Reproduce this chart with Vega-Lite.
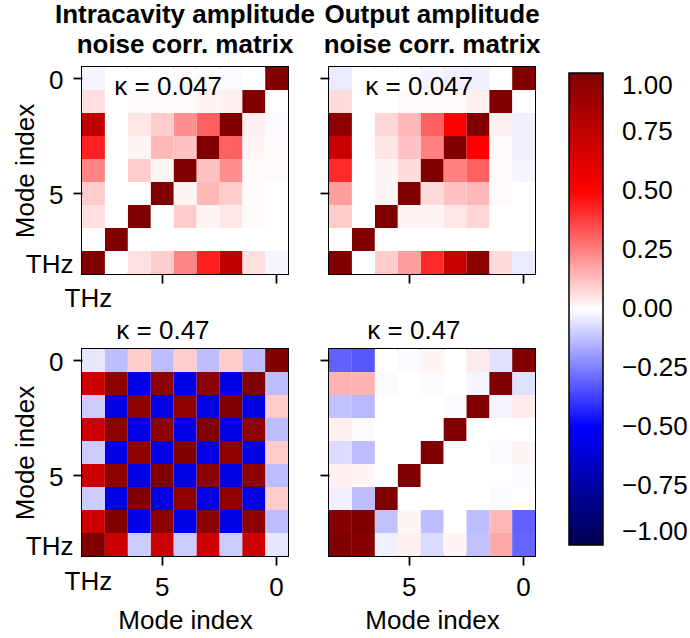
{
"$schema": "https://vega.github.io/schema/vega-lite/v6.json",
"padding": {"left": 11, "top": 0, "right": 0, "bottom": 0},
"data": {"values": [
{"m":"a","r":0,"c":0,"v":1},{"m":"a","r":0,"c":1,"v":0},{"m":"a","r":0,"c":2,"v":-0.01},{"m":"a","r":0,"c":3,"v":0.01},{"m":"a","r":0,"c":4,"v":0.01},{"m":"a","r":0,"c":5,"v":0},{"m":"a","r":0,"c":6,"v":0},{"m":"a","r":0,"c":7,"v":0},{"m":"a","r":0,"c":8,"v":-0.02},
{"m":"a","r":1,"c":0,"v":0},{"m":"a","r":1,"c":1,"v":1},{"m":"a","r":1,"c":2,"v":0.03},{"m":"a","r":1,"c":3,"v":0.02},{"m":"a","r":1,"c":4,"v":0.01},{"m":"a","r":1,"c":5,"v":0.01},{"m":"a","r":1,"c":6,"v":0.01},{"m":"a","r":1,"c":7,"v":0},{"m":"a","r":1,"c":8,"v":0.06},
{"m":"a","r":2,"c":0,"v":-0.01},{"m":"a","r":2,"c":1,"v":0.03},{"m":"a","r":2,"c":2,"v":1},{"m":"a","r":2,"c":3,"v":0.31},{"m":"a","r":2,"c":4,"v":0.22},{"m":"a","r":2,"c":5,"v":0.1},{"m":"a","r":2,"c":6,"v":0.05},{"m":"a","r":2,"c":7,"v":0},{"m":"a","r":2,"c":8,"v":0.75},
{"m":"a","r":3,"c":0,"v":0.01},{"m":"a","r":3,"c":1,"v":0.02},{"m":"a","r":3,"c":2,"v":0.31},{"m":"a","r":3,"c":3,"v":1},{"m":"a","r":3,"c":4,"v":0.12},{"m":"a","r":3,"c":5,"v":0.14},{"m":"a","r":3,"c":6,"v":0.02},{"m":"a","r":3,"c":7,"v":0},{"m":"a","r":3,"c":8,"v":0.44},
{"m":"a","r":4,"c":0,"v":0.01},{"m":"a","r":4,"c":1,"v":0.01},{"m":"a","r":4,"c":2,"v":0.22},{"m":"a","r":4,"c":3,"v":0.12},{"m":"a","r":4,"c":4,"v":1},{"m":"a","r":4,"c":5,"v":0.02},{"m":"a","r":4,"c":6,"v":0.1},{"m":"a","r":4,"c":7,"v":0},{"m":"a","r":4,"c":8,"v":0.24},
{"m":"a","r":5,"c":0,"v":0},{"m":"a","r":5,"c":1,"v":0.01},{"m":"a","r":5,"c":2,"v":0.1},{"m":"a","r":5,"c":3,"v":0.14},{"m":"a","r":5,"c":4,"v":0.02},{"m":"a","r":5,"c":5,"v":1},{"m":"a","r":5,"c":6,"v":0},{"m":"a","r":5,"c":7,"v":0},{"m":"a","r":5,"c":8,"v":0.1},
{"m":"a","r":6,"c":0,"v":0},{"m":"a","r":6,"c":1,"v":0.01},{"m":"a","r":6,"c":2,"v":0.05},{"m":"a","r":6,"c":3,"v":0.02},{"m":"a","r":6,"c":4,"v":0.1},{"m":"a","r":6,"c":5,"v":0},{"m":"a","r":6,"c":6,"v":1},{"m":"a","r":6,"c":7,"v":0},{"m":"a","r":6,"c":8,"v":0.06},
{"m":"a","r":7,"c":0,"v":0},{"m":"a","r":7,"c":1,"v":0},{"m":"a","r":7,"c":2,"v":0},{"m":"a","r":7,"c":3,"v":0},{"m":"a","r":7,"c":4,"v":0},{"m":"a","r":7,"c":5,"v":0},{"m":"a","r":7,"c":6,"v":0},{"m":"a","r":7,"c":7,"v":1},{"m":"a","r":7,"c":8,"v":0},
{"m":"a","r":8,"c":0,"v":-0.02},{"m":"a","r":8,"c":1,"v":0.06},{"m":"a","r":8,"c":2,"v":0.75},{"m":"a","r":8,"c":3,"v":0.44},{"m":"a","r":8,"c":4,"v":0.24},{"m":"a","r":8,"c":5,"v":0.1},{"m":"a","r":8,"c":6,"v":0.06},{"m":"a","r":8,"c":7,"v":0},{"m":"a","r":8,"c":8,"v":1},
{"m":"b","r":0,"c":0,"v":1},{"m":"b","r":0,"c":1,"v":0},{"m":"b","r":0,"c":2,"v":-0.03},{"m":"b","r":0,"c":3,"v":-0.03},{"m":"b","r":0,"c":4,"v":-0.02},{"m":"b","r":0,"c":5,"v":0},{"m":"b","r":0,"c":6,"v":0},{"m":"b","r":0,"c":7,"v":0},{"m":"b","r":0,"c":8,"v":-0.04},
{"m":"b","r":1,"c":0,"v":0},{"m":"b","r":1,"c":1,"v":1},{"m":"b","r":1,"c":2,"v":0.03},{"m":"b","r":1,"c":3,"v":0.01},{"m":"b","r":1,"c":4,"v":0.01},{"m":"b","r":1,"c":5,"v":0.01},{"m":"b","r":1,"c":6,"v":0},{"m":"b","r":1,"c":7,"v":0},{"m":"b","r":1,"c":8,"v":0.07},
{"m":"b","r":2,"c":0,"v":-0.03},{"m":"b","r":2,"c":1,"v":0.03},{"m":"b","r":2,"c":2,"v":1},{"m":"b","r":2,"c":3,"v":0.5},{"m":"b","r":2,"c":4,"v":0.31},{"m":"b","r":2,"c":5,"v":0.14},{"m":"b","r":2,"c":6,"v":0.08},{"m":"b","r":2,"c":7,"v":0},{"m":"b","r":2,"c":8,"v":0.95},
{"m":"b","r":3,"c":0,"v":-0.03},{"m":"b","r":3,"c":1,"v":0.01},{"m":"b","r":3,"c":2,"v":0.5},{"m":"b","r":3,"c":3,"v":1},{"m":"b","r":3,"c":4,"v":0.25},{"m":"b","r":3,"c":5,"v":0.12},{"m":"b","r":3,"c":6,"v":0.05},{"m":"b","r":3,"c":7,"v":0},{"m":"b","r":3,"c":8,"v":0.72},
{"m":"b","r":4,"c":0,"v":-0.02},{"m":"b","r":4,"c":1,"v":0.01},{"m":"b","r":4,"c":2,"v":0.31},{"m":"b","r":4,"c":3,"v":0.25},{"m":"b","r":4,"c":4,"v":1},{"m":"b","r":4,"c":5,"v":0.07},{"m":"b","r":4,"c":6,"v":0.02},{"m":"b","r":4,"c":7,"v":0},{"m":"b","r":4,"c":8,"v":0.42},
{"m":"b","r":5,"c":0,"v":0},{"m":"b","r":5,"c":1,"v":0.01},{"m":"b","r":5,"c":2,"v":0.14},{"m":"b","r":5,"c":3,"v":0.12},{"m":"b","r":5,"c":4,"v":0.07},{"m":"b","r":5,"c":5,"v":1},{"m":"b","r":5,"c":6,"v":0.02},{"m":"b","r":5,"c":7,"v":0},{"m":"b","r":5,"c":8,"v":0.19},
{"m":"b","r":6,"c":0,"v":0},{"m":"b","r":6,"c":1,"v":0},{"m":"b","r":6,"c":2,"v":0.08},{"m":"b","r":6,"c":3,"v":0.05},{"m":"b","r":6,"c":4,"v":0.02},{"m":"b","r":6,"c":5,"v":0.02},{"m":"b","r":6,"c":6,"v":1},{"m":"b","r":6,"c":7,"v":0},{"m":"b","r":6,"c":8,"v":0.1},
{"m":"b","r":7,"c":0,"v":0},{"m":"b","r":7,"c":1,"v":0},{"m":"b","r":7,"c":2,"v":0},{"m":"b","r":7,"c":3,"v":0},{"m":"b","r":7,"c":4,"v":0},{"m":"b","r":7,"c":5,"v":0},{"m":"b","r":7,"c":6,"v":0},{"m":"b","r":7,"c":7,"v":1},{"m":"b","r":7,"c":8,"v":0},
{"m":"b","r":8,"c":0,"v":-0.04},{"m":"b","r":8,"c":1,"v":0.07},{"m":"b","r":8,"c":2,"v":0.95},{"m":"b","r":8,"c":3,"v":0.72},{"m":"b","r":8,"c":4,"v":0.42},{"m":"b","r":8,"c":5,"v":0.19},{"m":"b","r":8,"c":6,"v":0.1},{"m":"b","r":8,"c":7,"v":0},{"m":"b","r":8,"c":8,"v":1},
{"m":"c","r":0,"c":0,"v":1},{"m":"c","r":0,"c":1,"v":-0.13},{"m":"c","r":0,"c":2,"v":0.1},{"m":"c","r":0,"c":3,"v":-0.13},{"m":"c","r":0,"c":4,"v":0.1},{"m":"c","r":0,"c":5,"v":-0.13},{"m":"c","r":0,"c":6,"v":0.1},{"m":"c","r":0,"c":7,"v":-0.13},{"m":"c","r":0,"c":8,"v":-0.05},
{"m":"c","r":1,"c":0,"v":-0.13},{"m":"c","r":1,"c":1,"v":1},{"m":"c","r":1,"c":2,"v":-0.58},{"m":"c","r":1,"c":3,"v":0.95},{"m":"c","r":1,"c":4,"v":-0.58},{"m":"c","r":1,"c":5,"v":0.95},{"m":"c","r":1,"c":6,"v":-0.58},{"m":"c","r":1,"c":7,"v":0.95},{"m":"c","r":1,"c":8,"v":0.7},
{"m":"c","r":2,"c":0,"v":0.1},{"m":"c","r":2,"c":1,"v":-0.58},{"m":"c","r":2,"c":2,"v":1},{"m":"c","r":2,"c":3,"v":-0.58},{"m":"c","r":2,"c":4,"v":0.95},{"m":"c","r":2,"c":5,"v":-0.58},{"m":"c","r":2,"c":6,"v":0.95},{"m":"c","r":2,"c":7,"v":-0.58},{"m":"c","r":2,"c":8,"v":-0.1},
{"m":"c","r":3,"c":0,"v":-0.13},{"m":"c","r":3,"c":1,"v":0.95},{"m":"c","r":3,"c":2,"v":-0.58},{"m":"c","r":3,"c":3,"v":1},{"m":"c","r":3,"c":4,"v":-0.58},{"m":"c","r":3,"c":5,"v":0.95},{"m":"c","r":3,"c":6,"v":-0.58},{"m":"c","r":3,"c":7,"v":0.95},{"m":"c","r":3,"c":8,"v":0.7},
{"m":"c","r":4,"c":0,"v":0.1},{"m":"c","r":4,"c":1,"v":-0.58},{"m":"c","r":4,"c":2,"v":0.95},{"m":"c","r":4,"c":3,"v":-0.58},{"m":"c","r":4,"c":4,"v":1},{"m":"c","r":4,"c":5,"v":-0.58},{"m":"c","r":4,"c":6,"v":0.95},{"m":"c","r":4,"c":7,"v":-0.58},{"m":"c","r":4,"c":8,"v":-0.1},
{"m":"c","r":5,"c":0,"v":-0.13},{"m":"c","r":5,"c":1,"v":0.95},{"m":"c","r":5,"c":2,"v":-0.58},{"m":"c","r":5,"c":3,"v":0.95},{"m":"c","r":5,"c":4,"v":-0.58},{"m":"c","r":5,"c":5,"v":1},{"m":"c","r":5,"c":6,"v":-0.58},{"m":"c","r":5,"c":7,"v":0.95},{"m":"c","r":5,"c":8,"v":0.7},
{"m":"c","r":6,"c":0,"v":0.1},{"m":"c","r":6,"c":1,"v":-0.58},{"m":"c","r":6,"c":2,"v":0.95},{"m":"c","r":6,"c":3,"v":-0.58},{"m":"c","r":6,"c":4,"v":0.95},{"m":"c","r":6,"c":5,"v":-0.58},{"m":"c","r":6,"c":6,"v":1},{"m":"c","r":6,"c":7,"v":-0.58},{"m":"c","r":6,"c":8,"v":-0.1},
{"m":"c","r":7,"c":0,"v":-0.13},{"m":"c","r":7,"c":1,"v":0.95},{"m":"c","r":7,"c":2,"v":-0.58},{"m":"c","r":7,"c":3,"v":0.95},{"m":"c","r":7,"c":4,"v":-0.58},{"m":"c","r":7,"c":5,"v":0.95},{"m":"c","r":7,"c":6,"v":-0.58},{"m":"c","r":7,"c":7,"v":1},{"m":"c","r":7,"c":8,"v":0.7},
{"m":"c","r":8,"c":0,"v":-0.05},{"m":"c","r":8,"c":1,"v":0.7},{"m":"c","r":8,"c":2,"v":-0.1},{"m":"c","r":8,"c":3,"v":0.7},{"m":"c","r":8,"c":4,"v":-0.1},{"m":"c","r":8,"c":5,"v":0.7},{"m":"c","r":8,"c":6,"v":-0.1},{"m":"c","r":8,"c":7,"v":0.7},{"m":"c","r":8,"c":8,"v":1},
{"m":"d","r":0,"c":0,"v":1},{"m":"d","r":0,"c":1,"v":-0.06},{"m":"d","r":0,"c":2,"v":0.04},{"m":"d","r":0,"c":3,"v":0},{"m":"d","r":0,"c":4,"v":0.02},{"m":"d","r":0,"c":5,"v":-0.01},{"m":"d","r":0,"c":6,"v":0},{"m":"d","r":0,"c":7,"v":-0.33},{"m":"d","r":0,"c":8,"v":-0.31},
{"m":"d","r":1,"c":0,"v":-0.06},{"m":"d","r":1,"c":1,"v":1},{"m":"d","r":1,"c":2,"v":-0.02},{"m":"d","r":1,"c":3,"v":0},{"m":"d","r":1,"c":4,"v":-0.01},{"m":"d","r":1,"c":5,"v":0},{"m":"d","r":1,"c":6,"v":-0.01},{"m":"d","r":1,"c":7,"v":0.15},{"m":"d","r":1,"c":8,"v":0.15},
{"m":"d","r":2,"c":0,"v":0.04},{"m":"d","r":2,"c":1,"v":-0.02},{"m":"d","r":2,"c":2,"v":1},{"m":"d","r":2,"c":3,"v":-0.01},{"m":"d","r":2,"c":4,"v":0},{"m":"d","r":2,"c":5,"v":0},{"m":"d","r":2,"c":6,"v":0},{"m":"d","r":2,"c":7,"v":-0.14},{"m":"d","r":2,"c":8,"v":-0.12},
{"m":"d","r":3,"c":0,"v":0},{"m":"d","r":3,"c":1,"v":0},{"m":"d","r":3,"c":2,"v":0},{"m":"d","r":3,"c":3,"v":1},{"m":"d","r":3,"c":4,"v":0},{"m":"d","r":3,"c":5,"v":0},{"m":"d","r":3,"c":6,"v":0},{"m":"d","r":3,"c":7,"v":0.01},{"m":"d","r":3,"c":8,"v":0.03},
{"m":"d","r":4,"c":0,"v":0.02},{"m":"d","r":4,"c":1,"v":-0.01},{"m":"d","r":4,"c":2,"v":0},{"m":"d","r":4,"c":3,"v":0},{"m":"d","r":4,"c":4,"v":1},{"m":"d","r":4,"c":5,"v":0},{"m":"d","r":4,"c":6,"v":0},{"m":"d","r":4,"c":7,"v":-0.13},{"m":"d","r":4,"c":8,"v":-0.07},
{"m":"d","r":5,"c":0,"v":-0.01},{"m":"d","r":5,"c":1,"v":0},{"m":"d","r":5,"c":2,"v":0},{"m":"d","r":5,"c":3,"v":0},{"m":"d","r":5,"c":4,"v":0},{"m":"d","r":5,"c":5,"v":1},{"m":"d","r":5,"c":6,"v":0},{"m":"d","r":5,"c":7,"v":0.02},{"m":"d","r":5,"c":8,"v":0.03},
{"m":"d","r":6,"c":0,"v":0},{"m":"d","r":6,"c":1,"v":-0.01},{"m":"d","r":6,"c":2,"v":0},{"m":"d","r":6,"c":3,"v":0},{"m":"d","r":6,"c":4,"v":0},{"m":"d","r":6,"c":5,"v":0},{"m":"d","r":6,"c":6,"v":1},{"m":"d","r":6,"c":7,"v":-0.13},{"m":"d","r":6,"c":8,"v":-0.03},
{"m":"d","r":7,"c":0,"v":-0.31},{"m":"d","r":7,"c":1,"v":0.14},{"m":"d","r":7,"c":2,"v":-0.13},{"m":"d","r":7,"c":3,"v":0},{"m":"d","r":7,"c":4,"v":-0.13},{"m":"d","r":7,"c":5,"v":0.02},{"m":"d","r":7,"c":6,"v":-0.12},{"m":"d","r":7,"c":7,"v":1},{"m":"d","r":7,"c":8,"v":0.98},
{"m":"d","r":8,"c":0,"v":-0.3},{"m":"d","r":8,"c":1,"v":0.17},{"m":"d","r":8,"c":2,"v":-0.12},{"m":"d","r":8,"c":3,"v":0.02},{"m":"d","r":8,"c":4,"v":-0.07},{"m":"d","r":8,"c":5,"v":0.03},{"m":"d","r":8,"c":6,"v":-0.03},{"m":"d","r":8,"c":7,"v":0.98},{"m":"d","r":8,"c":8,"v":1}
]},
"columns": 2,
"spacing": {"row": 75, "column": 41},
"bounds": "flush",
"concat": [
{
 "width": 206, "height": 207,
 "title": {"text": ["Intracavity amplitude", "noise corr. matrix"], "fontWeight": "bold", "fontSize": 26, "lineHeight": 30, "baseline": "bottom", "offset": -16.5, "anchor": "middle"},
 "encoding": {
  "x": {"field": "c", "type": "ordinal", "scale": {"domain": [8,7,6,5,4,3,2,1,0], "paddingInner": 0, "paddingOuter": 0},
        "axis": {"values": [8,5,0], "title": null, "labelAngle": 0, "labelExpr": "datum.value == 8 ? 'THz' : ''",
                 "labelPadding": {"condition": {"test": "datum.value == 8", "value": 2}, "value": 9},
                 "labelOffset": {"condition": {"test": "datum.value == 8", "value": -5}, "value": 0},
                 "tickOpacity": {"condition": {"test": "datum.value == 8", "value": 0}, "value": 1}}},
  "y": {"field": "r", "type": "ordinal", "scale": {"domain": [0,1,2,3,4,5,6,7,8], "paddingInner": 0, "paddingOuter": 0},
        "axis": {"values": [0,5,8], "title": "Mode index", "titleX": -44, "titleY": 103.5, "titleBaseline": "bottom", "labelExpr": "datum.value == 8 ? 'THz' : datum.label",
                 "labelPadding": {"condition": {"test": "datum.value == 8", "value": 0}, "value": 10},
                 "labelOffset": 2,
                 "tickOpacity": {"condition": {"test": "datum.value == 8", "value": 0}, "value": 1}}}
 },
 "layer": [
  {"transform": [{"filter": "datum.m == 'a'"}], "mark": "rect",
   "encoding": {"color": {"field": "v", "type": "quantitative", "scale": {"domain": [-1,-0.5,0,0.5,1], "range": ["#00004c","#0000ff","#ffffff","#ff0000","#800000"], "interpolate": "rgb"},
     "legend": {"orient": "none", "legendX": 487, "legendY": 6, "direction": "vertical", "gradientLength": 472, "gradientThickness": 34, "title": null, "values": [1,0.75,0.5,0.25,0,-0.25,-0.5,-0.75,-1], "format": ".2f", "labelFontSize": 26, "labelOffset": 19, "labelBaseline": "middle", "labelOverlap": false, "gradientStrokeColor": "black", "gradientStrokeWidth": 1.5, "labelColor": "black"}}}},
  {"data": {"values": [{"c": 7, "r": 0, "t": "κ = 0.047"}]}, "mark": {"type": "text", "align": "left", "baseline": "alphabetic", "dx": -2, "dy": 16, "fontSize": 26, "color": "black"},
   "encoding": {"text": {"field": "t"}}}
 ]
},
{
 "width": 206, "height": 207,
 "title": {"text": ["Output amplitude", "noise corr. matrix"], "fontWeight": "bold", "fontSize": 26, "lineHeight": 30, "baseline": "bottom", "offset": -16.5, "anchor": "middle"},
 "encoding": {
  "x": {"field": "c", "type": "ordinal", "scale": {"domain": [8,7,6,5,4,3,2,1,0], "paddingInner": 0, "paddingOuter": 0},
        "axis": {"values": [5,0], "title": null, "labels": false}},
  "y": {"field": "r", "type": "ordinal", "scale": {"domain": [0,1,2,3,4,5,6,7,8], "paddingInner": 0, "paddingOuter": 0},
        "axis": {"values": [0,5], "title": null, "labels": false}}
 },
 "layer": [
  {"transform": [{"filter": "datum.m == 'b'"}], "mark": "rect",
   "encoding": {"color": {"field": "v", "type": "quantitative", "scale": {"domain": [-1,-0.5,0,0.5,1], "range": ["#00004c","#0000ff","#ffffff","#ff0000","#800000"], "interpolate": "rgb"},
     "legend": {"orient": "none", "legendX": 487, "legendY": 6, "direction": "vertical", "gradientLength": 472, "gradientThickness": 34, "title": null, "values": [1,0.75,0.5,0.25,0,-0.25,-0.5,-0.75,-1], "format": ".2f", "labelFontSize": 26, "labelOffset": 19, "labelBaseline": "middle", "labelOverlap": false, "gradientStrokeColor": "black", "gradientStrokeWidth": 1.5, "labelColor": "black"}}}},
  {"data": {"values": [{"c": 7, "r": 0, "t": "κ = 0.047"}]}, "mark": {"type": "text", "align": "left", "baseline": "alphabetic", "dx": 2, "dy": 16, "fontSize": 26, "color": "black"},
   "encoding": {"text": {"field": "t"}}}
 ]
},
{
 "width": 206, "height": 207,
 "encoding": {
  "x": {"field": "c", "type": "ordinal", "scale": {"domain": [8,7,6,5,4,3,2,1,0], "paddingInner": 0, "paddingOuter": 0},
        "axis": {"values": [8,5,0], "title": "Mode index", "titleY": 51.5, "labelAngle": 0, "labelExpr": "datum.value == 8 ? 'THz' : datum.label",
                 "labelPadding": {"condition": {"test": "datum.value == 8", "value": 3}, "value": 9},
                 "labelOffset": {"condition": {"test": "datum.value == 8", "value": -5}, "value": 0},
                 "tickOpacity": {"condition": {"test": "datum.value == 8", "value": 0}, "value": 1}}},
  "y": {"field": "r", "type": "ordinal", "scale": {"domain": [0,1,2,3,4,5,6,7,8], "paddingInner": 0, "paddingOuter": 0},
        "axis": {"values": [0,5,8], "title": "Mode index", "titleX": -44, "titleY": 103.5, "titleBaseline": "bottom", "labelExpr": "datum.value == 8 ? 'THz' : datum.label",
                 "labelPadding": {"condition": {"test": "datum.value == 8", "value": 0}, "value": 10},
                 "labelOffset": 2,
                 "tickOpacity": {"condition": {"test": "datum.value == 8", "value": 0}, "value": 1}}}
 },
 "layer": [
  {"transform": [{"filter": "datum.m == 'c'"}], "mark": "rect",
   "encoding": {"color": {"field": "v", "type": "quantitative", "scale": {"domain": [-1,-0.5,0,0.5,1], "range": ["#00004c","#0000ff","#ffffff","#ff0000","#800000"], "interpolate": "rgb"},
     "legend": {"orient": "none", "legendX": 487, "legendY": 6, "direction": "vertical", "gradientLength": 472, "gradientThickness": 34, "title": null, "values": [1,0.75,0.5,0.25,0,-0.25,-0.5,-0.75,-1], "format": ".2f", "labelFontSize": 26, "labelOffset": 19, "labelBaseline": "middle", "labelOverlap": false, "gradientStrokeColor": "black", "gradientStrokeWidth": 1.5, "labelColor": "black"}}}},
  {"data": {"values": [{"c": 7, "r": 0, "t": "κ = 0.47"}]}, "mark": {"type": "text", "align": "left", "baseline": "alphabetic", "dx": 0, "dy": -21.5, "fontSize": 26, "color": "black"},
   "encoding": {"text": {"field": "t"}}}
 ]
},
{
 "width": 206, "height": 207,
 "encoding": {
  "x": {"field": "c", "type": "ordinal", "scale": {"domain": [8,7,6,5,4,3,2,1,0], "paddingInner": 0, "paddingOuter": 0},
        "axis": {"values": [5,0], "title": "Mode index", "titleY": 51.5, "labelAngle": 0}},
  "y": {"field": "r", "type": "ordinal", "scale": {"domain": [0,1,2,3,4,5,6,7,8], "paddingInner": 0, "paddingOuter": 0},
        "axis": {"values": [0,5], "title": null, "labels": false}}
 },
 "layer": [
  {"transform": [{"filter": "datum.m == 'd'"}], "mark": "rect",
   "encoding": {"color": {"field": "v", "type": "quantitative", "scale": {"domain": [-1,-0.5,0,0.5,1], "range": ["#00004c","#0000ff","#ffffff","#ff0000","#800000"], "interpolate": "rgb"},
     "legend": {"orient": "none", "legendX": 487, "legendY": 6, "direction": "vertical", "gradientLength": 472, "gradientThickness": 34, "title": null, "values": [1,0.75,0.5,0.25,0,-0.25,-0.5,-0.75,-1], "format": ".2f", "labelFontSize": 26, "labelOffset": 19, "labelBaseline": "middle", "labelOverlap": false, "gradientStrokeColor": "black", "gradientStrokeWidth": 1.5, "labelColor": "black"}}}},
  {"data": {"values": [{"c": 7, "r": 0, "t": "κ = 0.47"}]}, "mark": {"type": "text", "align": "left", "baseline": "alphabetic", "dx": 4, "dy": -21.5, "fontSize": 26, "color": "black"},
   "encoding": {"text": {"field": "t"}}}
 ]
}
],
"config": {
 "font": "Liberation Sans",
 "view": {"stroke": "black", "strokeWidth": 2},
 "axis": {"domain": false, "grid": false, "tickColor": "black", "tickSize": 9, "tickWidth": 1.8, "labelFontSize": 26, "labelColor": "black", "labelPadding": 9, "titleFontSize": 26, "titleFontWeight": "normal", "titleColor": "black", "labelFont": "Liberation Sans", "titleFont": "Liberation Sans"},
 "axisY": {"labelPadding": 10},
 "title": {"fontSize": 26, "color": "black", "font": "Liberation Sans"},
 "legend": {"labelFontSize": 26, "labelColor": "black", "labelFont": "Liberation Sans", "labelLimit": 200}
}
}
